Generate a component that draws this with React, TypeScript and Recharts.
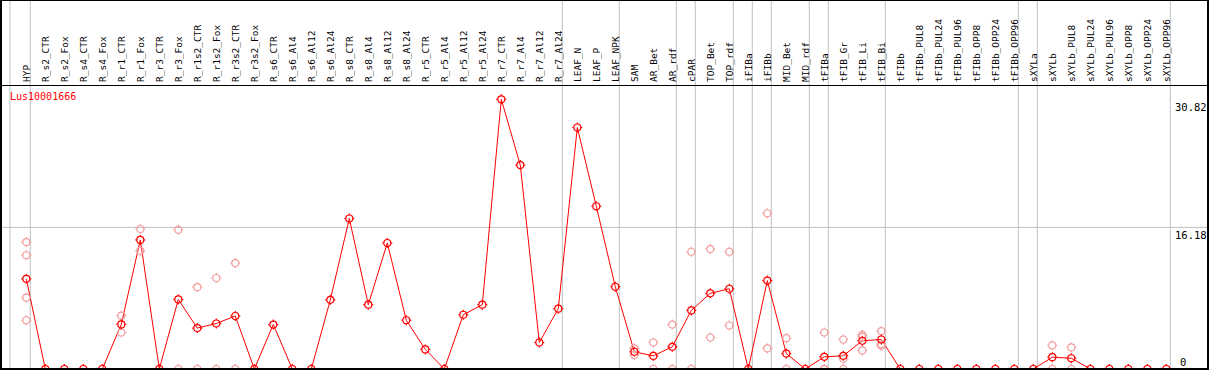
import { ComposedChart, Line, Scatter, XAxis, YAxis, ReferenceLine } from "recharts";

const categories = [
  "HYP", "R_s2_CTR", "R_s2_Fox", "R_s4_CTR", "R_s4_Fox", "R_r1_CTR", "R_r1_Fox", "R_r3_CTR", "R_r3_Fox",
  "R_r1s2_CTR", "R_r1s2_Fox", "R_r3s2_CTR", "R_r3s2_Fox", "R_s6_CTR", "R_s6_Al4", "R_s6_Al12", "R_s6_Al24",
  "R_s8_CTR", "R_s8_Al4", "R_s8_Al12", "R_s8_Al24", "R_r5_CTR", "R_r5_Al4", "R_r5_Al12", "R_r5_Al24",
  "R_r7_CTR", "R_r7_Al4", "R_r7_Al12", "R_r7_Al24", "LEAF_N", "LEAF_P", "LEAF_NPK", "SAM", "AR_Bet", "AR_rdf",
  "cPAR", "TOP_Bet", "TOP_rdf", "iFIBa", "iFIBb", "MID_Bet", "MID_rdf", "tFIBa", "tFIB_Gr", "tFIB_Li", "tFIB_Bi",
  "tFIBb", "tFIBb_PUL8", "tFIBb_PUL24", "tFIBb_PUL96", "tFIBb_OPP8", "tFIBb_OPP24", "tFIBb_OPP96",
  "sXYLa", "sXYLb", "sXYLb_PUL8", "sXYLb_PUL24", "sXYLb_PUL96", "sXYLb_OPP8", "sXYLb_OPP24", "sXYLb_OPP96",
];

// mean expression per sample
const means = [
  10.3, 0, 0, 0, 0, 5.1, 14.75, 0, 7.95,
  4.68, 5.2, 6.06, 0, 5.08, 0, 0, 7.9,
  17.2, 7.35, 14.4, 5.57, 2.24, 0, 6.2, 7.35,
  30.82, 23.3, 3.03, 6.9, 27.6, 18.6, 9.4, 1.97, 1.5, 2.54,
  6.7, 8.65, 9.17, 0, 10.1, 1.76, 0, 1.39, 1.51, 3.23, 3.37,
  0, 0, 0, 0, 0, 0, 0,
  0, 1.35, 1.23, 0, 0, 0, 0, 0,
];

// individual replicates (faint circles)
const replicates: number[][] = [
  [14.5, 13.0, 8.15, 5.57], [], [], [], [], [6.1, 4.17], [16.0, 13.5], [], [15.9, 0],
  [9.35, 0], [10.4, 0], [12.1, 0], [], [], [], [], [],
  [], [], [], [], [], [], [], [],
  [], [], [], [], [], [], [], [2.35, 1.6], [3.03, 0], [5.08, 0],
  [13.4, 0], [13.7, 3.6], [13.4, 4.97], [], [17.8, 2.35], [3.52, 0], [], [4.17, 0, 0], [3.37, 1.17, 0], [3.9, 3.67, 2.12], [4.32, 2.84, 2.65],
  [], [], [], [], [], [], [],
  [], [2.69, 0], [2.47, 0], [], [], [], [], [],
];

const yTicks = [0, 16.18, 30.82];
const groupEnds = [-0.86, 0.21, 28.21, 31.21, 34.21, 35.21, 37.21, 38.21, 39.21, 41.21, 42.21, 45.21, 52.21, 53.21, 60.21];
const geneName = "Lus10001666";

const W = 1209;
const H = 370;
const X_DOMAIN: [number, number] = [-1.384, 62.247];
const Y_DOMAIN: [number, number] = [-0.114, 42.17];

const lineData = means.map((v, i) => ({ x: i, y: v }));
const repData = replicates.flatMap((vals, i) => vals.map((v) => ({ x: i, y: v })));

function Marker(props: any) {
  const { cx, cy, color } = props;
  if (cx == null || cy == null) return null;
  const r = 3.5;
  return (
    <g stroke={color} strokeWidth={1.2} fill="none">
      <circle cx={cx} cy={cy} r={r} />
      <line x1={cx} y1={cy - r - 1.5} x2={cx} y2={cy - r} />
      <line x1={cx} y1={cy + r} x2={cx} y2={cy + r + 1.5} />
      <line x1={cx - r - 1.5} y1={cy} x2={cx - r} y2={cy} />
      <line x1={cx + r} y1={cy} x2={cx + r + 1.5} y2={cy} />
    </g>
  );
}

function categoryLabel(name: string) {
  return (props: any) => {
    const x = props.viewBox?.x ?? 0;
    return (
      <text
        transform={`translate(${x + 3.5},82) rotate(-90)`}
        fontFamily="DejaVu Sans Mono"
        fontSize={9.5}
        fill="#000"
      >
        {name}
      </text>
    );
  };
}

function valueLabel(v: number) {
  return (props: any) => {
    const y = props.viewBox?.y ?? 0;
    return (
      <text x={v === 0 ? 1180 : 1175} y={Math.min(y + 12, 366)} fontFamily="DejaVu Sans Mono" fontSize={10.5} fill="#000">
        {v}
      </text>
    );
  };
}

export default function App() {
  return (
    <div style={{ position: "absolute", left: 0, top: 0, width: W, height: H, background: "#fff" }}>
      <ComposedChart width={W} height={H} data={lineData} margin={{ top: 0, right: 0, bottom: 0, left: 0 }}>
        <XAxis type="number" dataKey="x" hide domain={X_DOMAIN} allowDataOverflow />
        <YAxis type="number" hide domain={Y_DOMAIN} allowDataOverflow />
        {groupEnds.map((g) => (
          <ReferenceLine key={g} x={g} stroke="#c0c0c0" strokeWidth={1} />
        ))}
        <ReferenceLine y={16.18} stroke="#c0c0c0" strokeWidth={1} />
        {categories.map((c, i) => (
          <ReferenceLine key={c} x={i} stroke="none" label={categoryLabel(c)} />
        ))}
        {yTicks.map((t) => (
          <ReferenceLine key={"t" + t} y={t} stroke="none" label={valueLabel(t)} />
        ))}
        <Scatter
          data={repData}
          dataKey="y"
          isAnimationActive={false}
          shape={(p: any) => <Marker {...p} color="#f2a0a0" />}
        />
        <Line
          dataKey="y"
          stroke="#ff0000"
          strokeWidth={1}
          isAnimationActive={false}
          dot={(p: any) => <Marker key={p.index} {...p} color="#ff0000" />}
          activeDot={false}
        />
      </ComposedChart>
      <div style={{ position: "absolute", left: 0, top: 85, width: W, height: 0, borderTop: "1px solid #000" }} />
      <div
        style={{
          position: "absolute",
          left: 0,
          top: 0,
          width: W,
          height: H,
          boxSizing: "border-box",
          borderStyle: "solid",
          borderColor: "#000",
          borderWidth: "1px 2px 2px 2px",
          pointerEvents: "none",
        }}
      />
      <div
        style={{
          position: "absolute",
          left: 10,
          top: 91,
          color: "#ff0000",
          fontFamily: "DejaVu Sans Mono",
          fontSize: 10,
          lineHeight: "12px",
        }}
      >
        {geneName}
      </div>
    </div>
  );
}
